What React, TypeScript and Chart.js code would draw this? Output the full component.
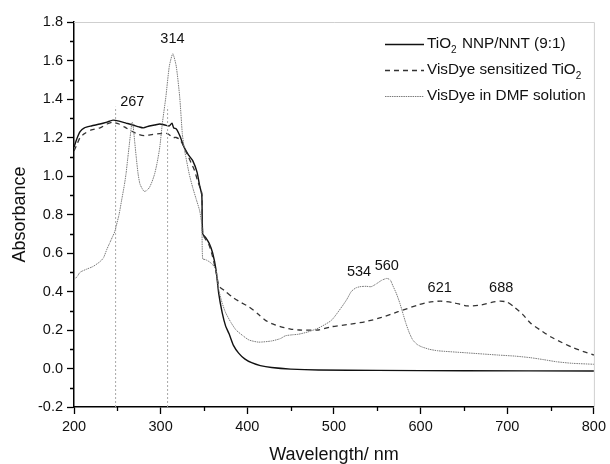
import React, { useEffect, useRef } from "react";
import { Chart, registerables } from "chart.js";

Chart.register(...registerables);

// ---- Data ----
const tio2X = [200, 203, 207, 212, 220, 230, 238, 245, 252, 260, 268, 275, 280, 287, 293, 299, 305, 310, 313, 315, 318, 322, 327, 332, 337, 342, 345, 347.5, 348.5, 352, 356, 360, 364, 367, 371, 375, 379, 384, 390, 397, 405, 415, 428, 450, 482, 550, 650, 800];
const tio2Y = [1.15, 1.19, 1.23, 1.25, 1.26, 1.27, 1.28, 1.29, 1.285, 1.275, 1.265, 1.255, 1.25, 1.26, 1.265, 1.27, 1.265, 1.26, 1.275, 1.25, 1.245, 1.21, 1.15, 1.11, 1.08, 1.02, 0.95, 0.9, 0.7, 0.68, 0.65, 0.6, 0.51, 0.39, 0.29, 0.22, 0.18, 0.12, 0.08, 0.05, 0.03, 0.015, 0.005, -0.003, -0.008, -0.01, -0.012, -0.013];

const sensX = [200, 203, 207, 212, 220, 230, 238, 245, 252, 260, 268, 275, 281, 290, 299, 308, 314, 318, 322, 326, 330, 335, 339, 343, 347.5, 348.5, 352, 356, 360, 364, 367, 369, 375, 383, 392, 402, 412, 421, 430, 440, 450, 460, 482, 497, 515, 536, 555, 574, 597, 610, 623, 638, 654, 670, 683, 692, 700, 708, 718, 727, 738, 750, 763, 777, 790, 800];
const sensY = [1.13, 1.16, 1.2, 1.22, 1.24, 1.25, 1.27, 1.28, 1.27, 1.25, 1.23, 1.215, 1.21, 1.215, 1.22, 1.22, 1.2, 1.2, 1.19, 1.16, 1.12, 1.07, 1.03, 0.97, 0.91, 0.7, 0.67, 0.64, 0.58, 0.5, 0.43, 0.42, 0.4, 0.37, 0.345, 0.32, 0.285, 0.25, 0.23, 0.215, 0.205, 0.2, 0.2, 0.217, 0.228, 0.243, 0.265, 0.295, 0.33, 0.345, 0.35, 0.342, 0.325, 0.33, 0.345, 0.35, 0.345, 0.32, 0.28, 0.235, 0.2, 0.165, 0.135, 0.106, 0.085, 0.07];

const dmfX = [200, 204, 207, 214, 222, 230, 234, 238, 241, 244, 247, 249, 252, 255, 258, 260, 262, 264, 266, 267, 268, 270, 272, 274, 276, 278, 281, 284, 287, 290, 293, 296, 299, 302, 306, 310, 314, 318, 322, 325, 327, 329, 333, 337, 341, 345, 347.5, 348.5, 352, 356, 360, 364, 367, 371, 375, 381, 387, 395, 402, 413, 428, 438, 444, 452, 459, 470, 482, 497, 509, 515, 520, 525, 530, 537, 543, 549, 555, 561, 565, 568, 572, 576, 580, 583, 587, 591, 596, 601, 610, 620, 651, 689, 710, 727, 742, 757, 775, 800];
const dmfY = [0.46, 0.48, 0.5, 0.515, 0.53, 0.555, 0.575, 0.62, 0.65, 0.68, 0.71, 0.745, 0.8, 0.875, 0.95, 1.01, 1.09, 1.17, 1.25, 1.28, 1.27, 1.18, 1.09, 1.01, 0.96, 0.94, 0.92, 0.925, 0.94, 0.97, 1.01, 1.07, 1.15, 1.275, 1.41, 1.57, 1.635, 1.57, 1.41, 1.22, 1.15, 1.1, 1.01, 0.94, 0.88, 0.82, 0.745, 0.57, 0.565, 0.555, 0.54, 0.51, 0.41, 0.34, 0.29, 0.24, 0.2, 0.17, 0.148, 0.137, 0.143, 0.155, 0.17, 0.175, 0.178, 0.19, 0.21, 0.25, 0.32, 0.36, 0.4, 0.418, 0.425, 0.427, 0.425, 0.44, 0.458, 0.468, 0.46, 0.43, 0.39, 0.34, 0.28, 0.235, 0.185, 0.148, 0.125, 0.113, 0.1, 0.092, 0.082, 0.07, 0.064, 0.056, 0.046, 0.035, 0.027, 0.022];

const guideX = [248, 308];
const guideTop = 1.36;

const peakText = ["267", "314", "534", "560", "621", "688"];
const peakX = [267.3, 313.6, 529, 561, 622, 693];
const peakY = [1.384, 1.71, 0.5, 0.53, 0.418, 0.418];

const seriesNames = ["TiO|2| NNP/NNT (9:1)", "VisDye sensitized TiO|2|", "VisDye in DMF solution"];

const xMin = 200, xMax = 800, yMin = -0.2, yMax = 1.8;

const FONT = "'Liberation Sans', Arial, sans-serif";

function pts(xs: number[], ys: number[]) {
  return xs.map((x, i) => ({ x, y: ys[i] }));
}

const styles = [
  { color: "#111111", width: 1.4, dash: [] as number[] },
  { color: "#333333", width: 1.3, dash: [5, 4] },
  { color: "#7a7a7a", width: 1.0, dash: [1.5, 0.8] },
];

const decorPlugin = {
  id: "decor",
  afterDraw(chart: any) {
    const ctx = chart.ctx as CanvasRenderingContext2D;
    const ca = chart.chartArea;
    const xs = chart.scales.x;
    const ys = chart.scales.y;
    ctx.save();
    // top & right light frame
    ctx.strokeStyle = "#cfcfcf";
    ctx.lineWidth = 1;
    ctx.beginPath();
    ctx.moveTo(ca.left, ca.top + 0.5);
    ctx.lineTo(ca.right + 0.5, ca.top + 0.5);
    ctx.lineTo(ca.right + 0.5, ca.bottom);
    ctx.stroke();
    // minor ticks
    ctx.strokeStyle = "#000";
    ctx.lineWidth = 1.3;
    ctx.beginPath();
    for (let v = xMin + 50; v < xMax; v += 100) {
      const px = Math.round(xs.getPixelForValue(v)) + 0.5;
      ctx.moveTo(px, ca.bottom);
      ctx.lineTo(px, ca.bottom + 4);
    }
    for (let k = 0; k < 10; k++) {
      const v = yMin + 0.1 + k * 0.2;
      const py = Math.round(ys.getPixelForValue(v)) + 0.5;
      ctx.moveTo(ca.left, py);
      ctx.lineTo(ca.left - 4, py);
    }
    ctx.stroke();
    // peak labels
    ctx.fillStyle = "#111";
    ctx.font = `14.5px ${FONT}`;
    ctx.textAlign = "center";
    ctx.textBaseline = "middle";
    peakText.forEach((t, i) => {
      ctx.fillText(t, xs.getPixelForValue(peakX[i]), ys.getPixelForValue(peakY[i]));
    });
    // axis titles
    ctx.font = `18px ${FONT}`;
    ctx.fillStyle = "#111";
    ctx.fillText("Wavelength/ nm", (ca.left + ca.right) / 2, 455);
    ctx.save();
    ctx.translate(20, (ca.top + ca.bottom) / 2);
    ctx.rotate(-Math.PI / 2);
    ctx.fillText("Absorbance", 0, 0);
    ctx.restore();
    // legend
    const lx0 = 385, lx1 = 424, tx = 427;
    const rows = [44, 70, 96];
    seriesNames.forEach((name, i) => {
      const st = styles[i];
      ctx.strokeStyle = st.color;
      ctx.lineWidth = st.width;
      ctx.setLineDash(st.dash);
      ctx.beginPath();
      ctx.moveTo(lx0, rows[i] + 0.5);
      ctx.lineTo(lx1, rows[i] + 0.5);
      ctx.stroke();
      ctx.setLineDash([]);
      const parts = name.split("|");
      let cx = tx;
      ctx.textAlign = "left";
      parts.forEach((p, j) => {
        if (p === "") return;
        const sub = j % 2 === 1;
        ctx.font = sub ? `10px ${FONT}` : `15.3px ${FONT}`;
        ctx.fillText(p, cx, rows[i] + (sub ? 6 : 0));
        cx += ctx.measureText(p).width + (sub ? 1 : 0);
      });
    });
    ctx.restore();
  },
};

export default function App() {
  const ref = useRef<HTMLCanvasElement | null>(null);
  useEffect(() => {
    if (!ref.current) return;
    const lineDs = (xs: number[], ys: number[], i: number) => ({
      label: seriesNames[i],
      data: pts(xs, ys),
      borderColor: styles[i].color,
      borderWidth: styles[i].width,
      borderDash: styles[i].dash,
      pointRadius: 0,
      tension: 0.2,
      fill: false,
    });
    const guides = guideX.map((g) => ({
      label: "guide",
      data: [{ x: g, y: yMin }, { x: g, y: guideTop }],
      borderColor: "#a8a8a8",
      borderWidth: 1,
      borderDash: [2, 2],
      pointRadius: 0,
      fill: false,
    }));
    const chart = new Chart(ref.current, {
      type: "line",
      data: {
        datasets: [
          ...guides,
          lineDs(dmfX, dmfY, 2),
          lineDs(sensX, sensY, 1),
          lineDs(tio2X, tio2Y, 0),
        ] as any,
      },
      options: {
        animation: false,
        responsive: false,
        maintainAspectRatio: false,
        parsing: false as any,
        layout: { padding: { top: 22, right: 13, left: 0, bottom: 0 } },
        plugins: { legend: { display: false }, tooltip: { enabled: false } },
        scales: {
          x: {
            type: "linear",
            min: xMin,
            max: xMax,
            ticks: {
              stepSize: 100,
              color: "#111",
              font: { family: FONT, size: 14.5 },
              padding: 4,
              maxRotation: 0,
            },
            grid: { drawOnChartArea: false, drawTicks: true, tickLength: 7, tickColor: "#000", tickWidth: 1.3 },
            border: { color: "#000", width: 1.5 },
            afterFit: (s: any) => { s.height = 57; },
          },
          y: {
            type: "linear",
            min: yMin,
            max: yMax,
            ticks: {
              stepSize: 0.2,
              color: "#111",
              font: { family: FONT, size: 14.5 },
              padding: 4,
              callback: (v: any) => Number(v).toFixed(1),
            },
            grid: { drawOnChartArea: false, drawTicks: true, tickLength: 7, tickColor: "#000", tickWidth: 1.3 },
            border: { color: "#000", width: 1.5 },
            afterFit: (s: any) => { s.width = 74; },
          },
        },
      },
      plugins: [decorPlugin],
    });
    return () => chart.destroy();
  }, []);
  return (
    <div style={{ position: "fixed", left: 0, top: 0, width: 610, height: 464, background: "#fff" }}>
      <canvas ref={ref} width={610} height={464} style={{ width: 610, height: 464, display: "block" }} />
    </div>
  );
}
